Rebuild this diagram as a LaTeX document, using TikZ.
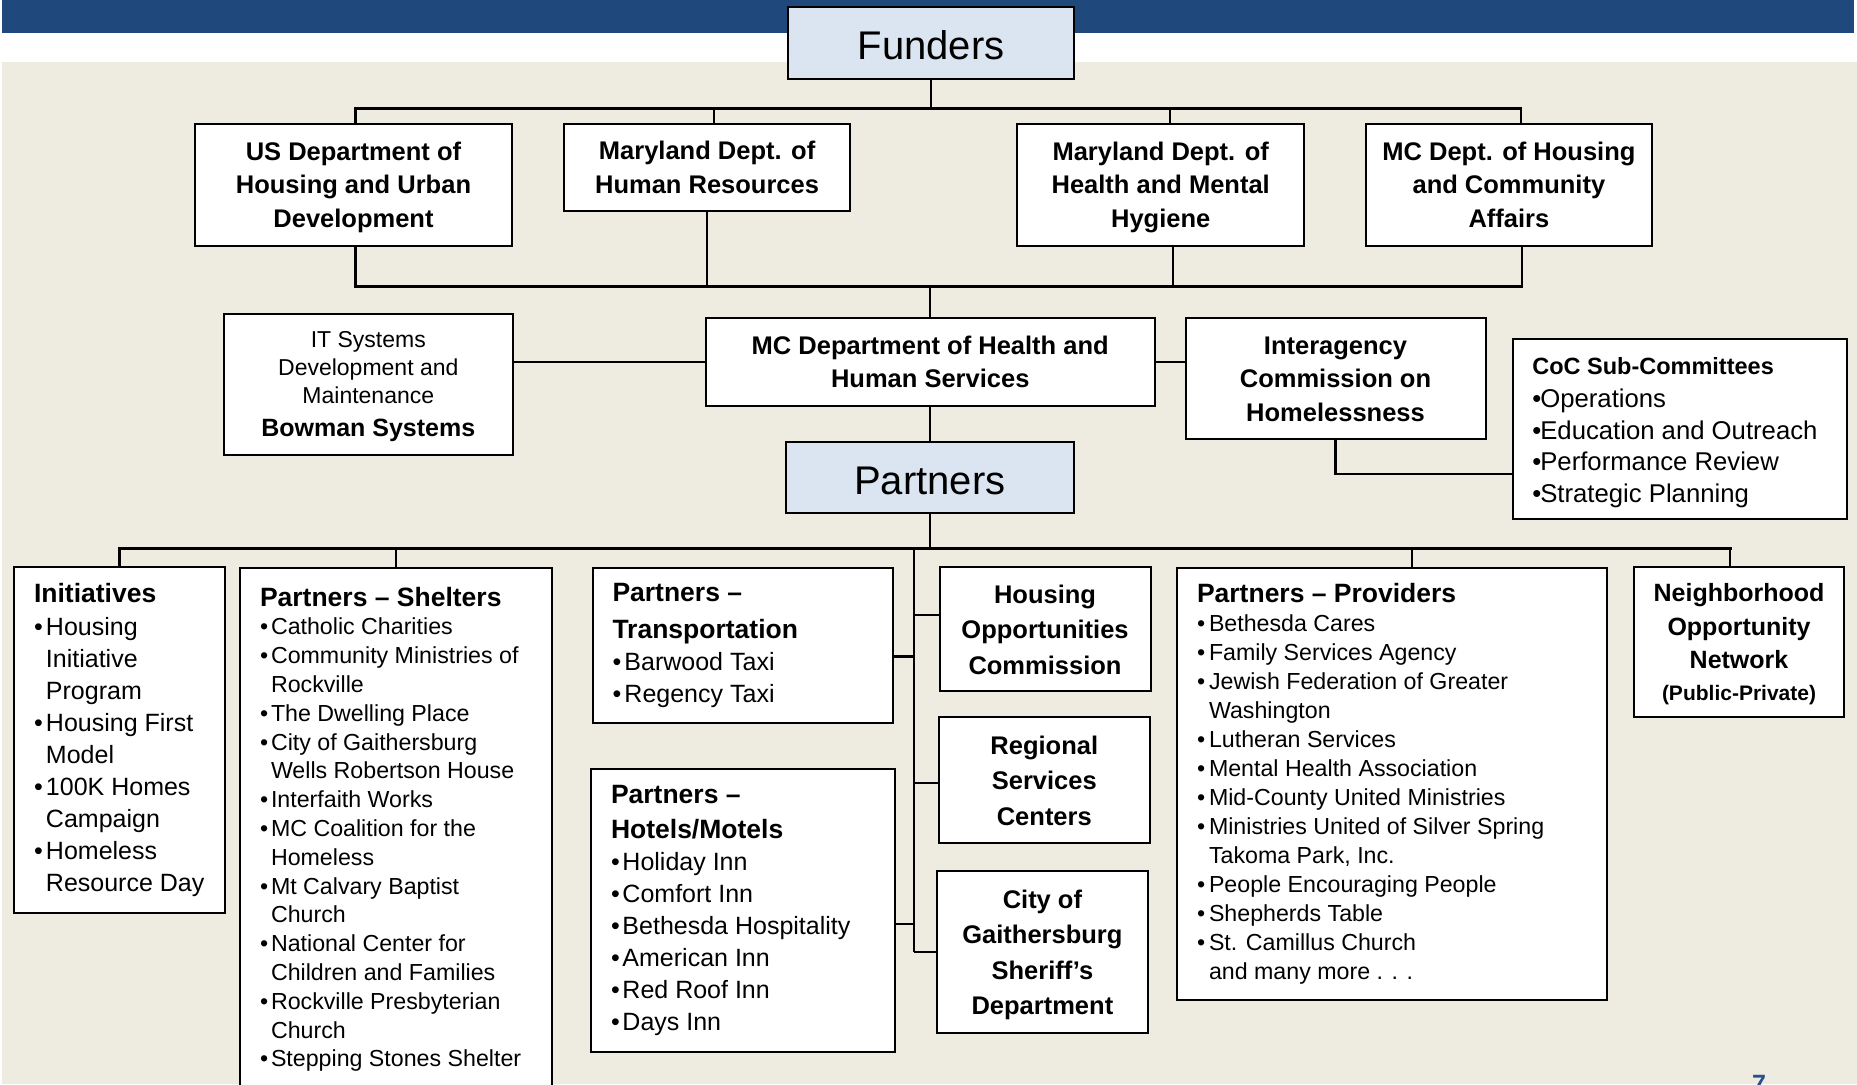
\documentclass[tikz,border=0pt]{standalone}
\usepackage{fontspec}
\setmainfont{Liberation Sans}

\definecolor{bandblue}{RGB}{31,73,125}
\definecolor{slidetan}{RGB}{238,236,225}
\definecolor{headblue}{RGB}{219,229,241}
\definecolor{pageblue}{RGB}{40,80,140}

% bullets and indents for the partner lists
\newcommand{\lbul}[1][12pt]{\makebox[#1][l]{\textbullet}}
\newcommand{\lind}[1][12pt]{\hspace*{#1}}
\newcommand{\listhead}[2]{\makebox[#1][l]{\fontsize{26.5}{33}\selectfont\bfseries #2}}

\begin{document}
\begin{tikzpicture}
	[
	x = {(1pt, 0pt)},
	y = {(0pt, -1pt)},
	box/.style = {draw = black, line width = 2pt, fill = white, inner sep = 0pt, align = center, text depth = 5.4pt},
	headbox/.style = {box, fill = headblue, line width = 2.2pt, text depth = 1pt, font = \fontsize{40}{48}\selectfont},
	topbox/.style = {box, font = \fontsize{25.5}{33.5}\selectfont\bfseries},
	lowbox/.style = {box, font = \fontsize{25.5}{35.5}\selectfont\bfseries},
	listbox/.style = {draw = black, line width = 2pt, fill = white, anchor = north west, inner xsep = 20pt, inner ysep = 0pt, align = left},
	conn/.style = {color = black, line width = 2.2pt},
	bus/.style = {color = black, line width = 3pt, line cap = rect}]
	
	\useasboundingbox (0, 0) rectangle (1857, 1084);
	\clip (0, 0) rectangle (1857, 1084);
	
	%% slide background
	\fill[white] (0, 0) rectangle (1857, 1084);
	\fill[bandblue] (2.4, 0) rectangle (1853.6, 33.3);
	\fill[slidetan] (2.4, 62) rectangle (1857, 1084);
	
	%% Funders
	\node[headbox, minimum width = 286.7pt, minimum height = 71.7pt] (funders) at (931, 43.2) {\strut Funders};
	
	\node[topbox, minimum width = 316.3pt, minimum height = 121.7pt] (hud) at (353.5, 184.8) {\strut US Department of\\Housing and Urban\\Development};
	\node[topbox, minimum width = 286.6pt, minimum height = 87pt] (mdhr) at (707.1, 167.5) {\strut Maryland Dept. of\\Human Resources};
	\node[topbox, minimum width = 286.6pt, minimum height = 121.7pt] (dhmh) at (1160.7, 184.8) {\strut Maryland Dept. of\\Health and Mental\\Hygiene};
	\node[topbox, minimum width = 286.6pt, minimum height = 121.7pt] (dhca) at (1508.9, 184.8) {\strut MC Dept. of Housing\\and Community\\Affairs};
	
	%% County level
	\node[topbox, minimum width = 449pt, minimum height = 87.7pt] (dhhs) at (930.25, 362.2) {\strut MC Department of Health and\\Human Services};
	\node[box, font = \fontsize{23}{28.3}\selectfont, minimum width = 289.4pt, minimum height = 141pt] (itsys) at (368.3, 384.5) {\strut IT Systems\\Development and\\Maintenance\\[4pt]{\fontsize{25}{30}\selectfont\bfseries Bowman Systems}};
	\node[topbox, minimum width = 300pt, minimum height = 121pt] (ich) at (1335.5, 378.8) {\strut Interagency\\Commission on\\Homelessness};
	\node[listbox, inner xsep = 19pt, minimum height = 180.6pt, font = \fontsize{25.7}{31.6}\selectfont] (coc) at (1512.3, 337.7) {\makebox[295.7pt][l]{\rule{0pt}{24pt}\fontsize{23.5}{28}\selectfont\bfseries CoC Sub-Committees}\\[1.4pt]
		\lbul[8pt]Operations\\
		\lbul[8pt]Education and Outreach\\
		\lbul[8pt]Performance Review\\
		\lbul[8pt]Strategic Planning};
	
	%% Partners
	\node[headbox, minimum width = 287.8pt, minimum height = 71pt] (partners) at (929.8, 477.8) {\strut Partners};
	
	\node[listbox, minimum height = 345.7pt, font = \fontsize{25}{32}\selectfont] (init) at (13, 566) {\listhead{171pt}{Initiatives}\\[1pt]
		\lbul Housing\\
		\lind Initiative\\
		\lind Program\\
		\lbul Housing First\\
		\lind Model\\
		\lbul 100K Homes\\
		\lind Campaign\\
		\lbul Homeless\\
		\lind Resource Day};
	
	\node[listbox, minimum height = 523.5pt, font = \fontsize{23.2}{28.8}\selectfont] (shelters) at (239, 566.5) {\listhead{272pt}{Partners – Shelters}\\
		\lbul[11pt]Catholic Charities\\
		\lbul[11pt]Community Ministries of\\
		\lind[11pt]Rockville\\
		\lbul[11pt]The Dwelling Place\\
		\lbul[11pt]City of Gaithersburg\\
		\lind[11pt]Wells Robertson House\\
		\lbul[11pt]Interfaith Works\\
		\lbul[11pt]MC Coalition for the\\
		\lind[11pt]Homeless\\
		\lbul[11pt]Mt Calvary Baptist\\
		\lind[11pt]Church\\
		\lbul[11pt]National Center for\\
		\lind[11pt]Children and Families\\
		\lbul[11pt]Rockville Presbyterian\\
		\lind[11pt]Church\\
		\lbul[11pt]Stepping Stones Shelter};
	
	\node[listbox, minimum height = 155pt, font = \fontsize{25}{32}\selectfont] (trans) at (591.5, 567) {\listhead{260.5pt}{Partners –}\\[4.5pt]
		{\fontsize{26.5}{33}\selectfont\bfseries Transportation}\\
		\lbul Barwood Taxi\\
		\lbul Regency Taxi};
	
	\node[listbox, minimum height = 283pt, font = \fontsize{25}{32}\selectfont] (hotels) at (590, 768) {\listhead{264pt}{Partners –}\\[3.5pt]
		{\fontsize{26.5}{33}\selectfont\bfseries Hotels/Motels}\\
		\lbul[11.5pt]Holiday Inn\\
		\lbul[11.5pt]Comfort Inn\\
		\lbul[11.5pt]Bethesda Hospitality\\
		\lbul[11.5pt]American Inn\\
		\lbul[11.5pt]Red Roof Inn\\
		\lbul[11.5pt]Days Inn};
	
	\node[lowbox, minimum width = 211pt, minimum height = 124pt] (hoc) at (1045, 629) {\strut Housing\\Opportunities\\Commission};
	\node[lowbox, minimum width = 211.4pt, minimum height = 126pt] (rsc) at (1044.3, 780) {\strut Regional\\Services\\Centers};
	\node[lowbox, minimum width = 211.3pt, minimum height = 162pt] (city) at (1042.4, 952) {\strut City of\\Gaithersburg\\Sheriff’s\\Department};
	
	\node[listbox, minimum height = 432pt, font = \fontsize{23.2}{29}\selectfont] (prov) at (1176, 567) {\listhead{390pt}{Partners – Providers}\\
		\lbul Bethesda Cares\\
		\lbul Family Services Agency\\
		\lbul Jewish Federation of Greater\\
		\lind Washington\\
		\lbul Lutheran Services\\
		\lbul Mental Health Association\\
		\lbul Mid-County United Ministries\\
		\lbul Ministries United of Silver Spring\\
		\lind Takoma Park, Inc.\\
		\lbul People Encouraging People\\
		\lbul Shepherds Table\\
		\lbul St. Camillus Church\\
		\lind and many more . . .};
	
	\node[box, font = \fontsize{25}{33.5}\selectfont\bfseries, minimum width = 210.5pt, minimum height = 150pt] (non) at (1739, 642) {\strut Neighborhood\\Opportunity\\Network\\[-2pt]{\fontsize{21}{25}\selectfont (Public-Private)}};
	
	%% Drawing the connectors
	\coordinate (topbus) at (931, 108.3);
	\coordinate (botbus) at (930, 286.7);
	\coordinate (pbus) at (930, 548.3);
	\coordinate (spine) at (913.7, 548.3);
	
	\draw[conn] (funders.south) -- (funders.south |- topbus);
	\draw[bus] ([xshift = 2pt]hud.north |- topbus) -- ([xshift = 12pt]dhca.north |- topbus);
	\draw[conn] ([xshift = 2pt]hud.north) -- ([xshift = 2pt]hud.north |- topbus);
	\draw[conn] ([xshift = 7pt]mdhr.north) -- ([xshift = 7pt]mdhr.north |- topbus);
	\draw[conn] ([xshift = 9.5pt]dhmh.north) -- ([xshift = 9.5pt]dhmh.north |- topbus);
	\draw[conn] ([xshift = 12pt]dhca.north) -- ([xshift = 12pt]dhca.north |- topbus);
	
	\draw[bus] ([xshift = 2pt]hud.south |- botbus) -- ([xshift = 13pt]dhca.south |- botbus);
	\draw[conn] ([xshift = 2pt]hud.south) -- ([xshift = 2pt]hud.south |- botbus);
	\draw[conn] (mdhr.south) -- (mdhr.south |- botbus);
	\draw[conn] ([xshift = 12pt]dhmh.south) -- ([xshift = 12pt]dhmh.south |- botbus);
	\draw[conn] ([xshift = 13pt]dhca.south) -- ([xshift = 13pt]dhca.south |- botbus);
	\draw[conn] (dhhs.north |- botbus) -- (dhhs.north);
	
	\draw[conn] (dhhs.west) -- (dhhs.west -| itsys.east);
	\draw[conn] (dhhs.east) -- (dhhs.east -| ich.west);
	\draw[conn] (ich.south) |- ([yshift = -44.7pt]coc.west);
	\draw[conn] (dhhs.south) -- (dhhs.south |- partners.north);
	
	\draw[conn] (partners.south) -- (partners.south |- pbus);
	\draw[bus] (init.north |- pbus) -- ([xshift = -8.7pt]non.north |- pbus);
	\draw[conn] (init.north) -- (init.north |- pbus);
	\draw[conn] (shelters.north) -- (shelters.north |- pbus);
	\draw[conn] ([xshift = 19.6pt]prov.north) -- ([xshift = 19.6pt]prov.north |- pbus);
	\draw[conn] ([xshift = -8.7pt]non.north) -- ([xshift = -8.7pt]non.north |- pbus);
	
	\draw[conn] (spine) -- (spine |- city.west);
	\draw[conn] ([yshift = 14.3pt]hoc.west) -- ([yshift = 14.3pt]hoc.west -| spine);
	\draw[conn] ([yshift = -11pt]trans.east) -- ([yshift = -11pt]trans.east -| spine);
	\draw[conn] ([yshift = -3.3pt]rsc.west) -- ([yshift = -3.3pt]rsc.west -| spine);
	\draw[conn] ([yshift = -13.5pt]hotels.east) -- ([yshift = -13.5pt]hotels.east -| spine);
	\draw[conn] (city.west) -- (city.west -| spine);
	
	\node[anchor = base west, text = pageblue, font = \fontsize{25}{30}\selectfont\bfseries, inner sep = 0pt] (pagenum) at (1752, 1092) {7};
\end{tikzpicture}
\end{document}
